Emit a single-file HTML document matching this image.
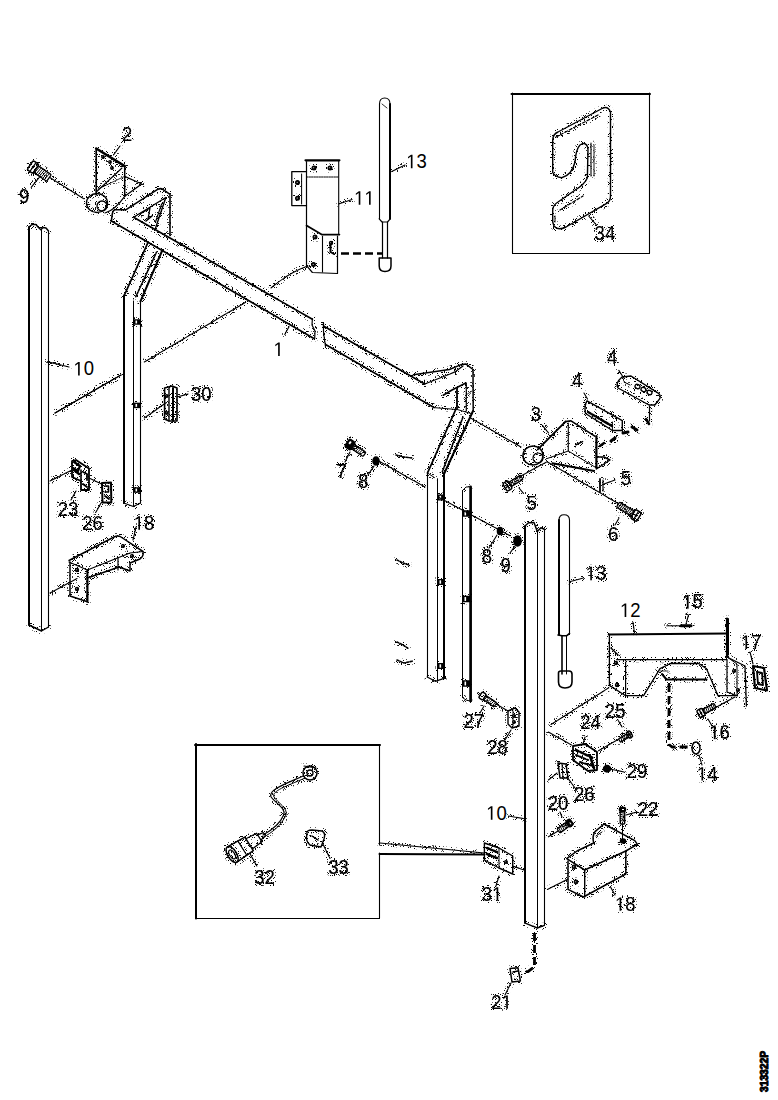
<!DOCTYPE html>
<html><head><meta charset="utf-8"><style>
html,body{margin:0;padding:0;background:#fff;}
body{width:778px;height:1100px;overflow:hidden;}
svg{display:block;}
text{font-family:"Liberation Sans",sans-serif;fill:#000;}
</style></head><body>
<svg width="778" height="1100" viewBox="0 0 778 1100">
<defs>
<filter id="nz" x="0" y="0" width="778" height="1100" filterUnits="userSpaceOnUse" color-interpolation-filters="sRGB">
<feMorphology in="SourceAlpha" operator="dilate" radius="1.5" result="d"/>
<feTurbulence type="fractalNoise" baseFrequency="0.9" numOctaves="2" seed="7" result="t"/>
<feColorMatrix in="t" type="matrix" values="0 0 0 0 0  0 0 0 0 0  0 0 0 0 0  3 0 0 0 -1.1" result="ta"/>
<feComponentTransfer in="ta" result="tb"><feFuncA type="discrete" tableValues="0 0 0 1"/></feComponentTransfer>
<feComposite in="tb" in2="d" operator="in" result="sp"/>
<feMerge><feMergeNode in="sp"/><feMergeNode in="SourceGraphic"/></feMerge>
</filter>
</defs>
<g fill="none" stroke="#000" stroke-linecap="round" stroke-linejoin="round">
<g><polyline points="29.0,227.0 29.0,625.0" stroke-width="2.0" />
<polyline points="41.5,229.7 41.5,631.0" stroke-width="1.0" />
<polyline points="48.5,231.0 48.5,627.0" stroke-width="1.1" />
<polyline points="124.0,295.5 124.0,503.0" stroke-width="2.0" />
<polyline points="133.5,301.0 133.5,506.5" stroke-width="1.0" />
<polyline points="140.5,300.4 140.5,503.0" stroke-width="1.1" />
<polyline points="427.5,472.0 427.5,677.0" stroke-width="1.1" />
<polyline points="437.5,478.7 437.5,681.3" stroke-width="1.0" />
<polyline points="444.0,473.0 444.0,678.3" stroke-width="2.0" />
<polyline points="462.5,490.7 462.5,697.5" stroke-width="1.0" />
<polyline points="470.6,486.8 470.6,701.0" stroke-width="2.7" />
<polyline points="525.0,526.2 525.0,922.8" stroke-width="2.0" />
<polyline points="537.5,531.6 537.5,928.0" stroke-width="1.0" />
<polyline points="544.5,529.3 544.5,925.4" stroke-width="1.1" />
<path d="M379.5,218.8 L379.5,104 Q379.5,98 384.7,98 Q390,98 390,104 L390,218.8" stroke-width="1.1" fill="none" />
<polyline points="390.0,104.0 390.0,218.8" stroke-width="2.0" />
<polyline points="379.2,218.8 382.0,222.0 387.5,222.0 390.2,218.8" stroke-width="1.2" />
<polyline points="382.5,222.0 382.5,258.0" stroke-width="1.2" />
<polyline points="387.5,222.0 387.5,258.0" stroke-width="1.2" />
<path d="M379.2,258 L391,258 L391,266 Q391,271.5 385,271.5 Q379.2,271.5 379.2,266 Z" stroke-width="1.5" fill="none" />
<polyline points="382.0,104.0 387.0,108.0" stroke-width="0.8" />
<polyline points="341.0,253.4 382.0,253.4" stroke-width="2.5" stroke-dasharray="8 4" stroke-linecap="butt"/>
<polyline points="305.5,160.3 339.4,160.3" stroke-width="2.2" />
<polyline points="306.5,161.5 306.5,265.7 312.4,272.5 337.5,273.5 337.5,236.0" stroke-width="1.2" />
<polyline points="338.7,161.0 338.7,234.5" stroke-width="1.1" />
<polyline points="306.5,177.0 338.6,177.0" stroke-width="1.0" stroke-dasharray="1.5 1"/>
<polyline points="306.5,225.6 321.7,234.6 339.4,234.6" stroke-width="1.8" />
<polyline points="322.5,236.4 322.5,272.0" stroke-width="1.1" />
<polyline points="306.5,171.6 291.8,171.6 291.8,205.6 306.5,205.6" stroke-width="1.3" />
<polyline points="301.6,174.0 301.6,204.0" stroke-width="1.0" />
<path d="M559,634.5 L559,520 Q559,514.7 564,514.7 Q569.5,514.7 569.5,520 L569.5,634.5" stroke-width="1.1" fill="none" />
<polyline points="559.0,520.0 559.0,634.5" stroke-width="2.0" />
<polyline points="558.0,635.0 562.0,635.8 566.5,635.8 569.5,633.5" stroke-width="1.6" />
<polyline points="562.0,635.8 562.0,674.0" stroke-width="1.6" />
<polyline points="566.5,635.8 566.5,674.0" stroke-width="1.0" />
<path d="M558.5,673 Q558.5,671 561,671 L569,671 Q572,671 572,674 L572,682 Q572,688 565,688 Q558.5,688 558.5,682 Z" stroke-width="1.6" fill="none" />
<polyline points="608.8,634.5 727.0,633.5" stroke-width="2.2" />
<polyline points="195.0,745.0 380.0,745.0" stroke-width="2.0" />
<polyline points="196.0,744.0 196.0,918.5 379.5,918.5 379.5,853.0" stroke-width="1.1" />
<polyline points="196.0,744.0 196.0,918.5" stroke-width="2.0" />
<polyline points="379.5,745.0 379.5,845.0" stroke-width="1.1" />
<polyline points="379.5,854.0 484.4,854.5" stroke-width="2.0" />
<polyline points="511.5,94.0 650.0,94.0" stroke-width="2.0" />
<polyline points="512.5,93.0 512.5,253.5 649.5,253.5 649.5,93.0" stroke-width="1.1" />
<g><path d="M515,0 L515,1237 L197,1010 L197,1180 L530,1409 L696,1409 L696,0 Z" transform="translate(354.06,204.71) scale(0.00905,-0.00952)" fill="#000" stroke="none"/><path d="M515,0 L515,1237 L197,1010 L197,1180 L530,1409 L696,1409 L696,0 Z" transform="translate(364.36,204.71) scale(0.00905,-0.00952)" fill="#000" stroke="none"/></g>
<g><path d="M515,0 L515,1237 L197,1010 L197,1180 L530,1409 L696,1409 L696,0 Z" transform="translate(406.21,168.21) scale(0.00905,-0.00952)" fill="#000" stroke="none"/><text transform="translate(416.52,168.21) scale(0.950,1)" font-size="19.50" stroke="none">3</text></g>
<g><path d="M515,0 L515,1237 L197,1010 L197,1180 L530,1409 L696,1409 L696,0 Z" transform="translate(73.42,375.41) scale(0.00905,-0.00952)" fill="#000" stroke="none"/><text transform="translate(83.72,375.41) scale(0.950,1)" font-size="19.50" stroke="none">0</text></g>
<g><path d="M515,0 L515,1237 L197,1010 L197,1180 L530,1409 L696,1409 L696,0 Z" transform="translate(273.46,355.96) scale(0.00905,-0.00952)" fill="#000" stroke="none"/></g>
<g><path d="M515,0 L515,1237 L197,1010 L197,1180 L530,1409 L696,1409 L696,0 Z" transform="translate(619.97,616.96) scale(0.00905,-0.00952)" fill="#000" stroke="none"/><text transform="translate(630.27,616.96) scale(0.950,1)" font-size="19.50" stroke="none">2</text></g>
<g><path d="M515,0 L515,1237 L197,1010 L197,1180 L530,1409 L696,1409 L696,0 Z" transform="translate(486.17,819.71) scale(0.00905,-0.00952)" fill="#000" stroke="none"/><text transform="translate(496.47,819.71) scale(0.950,1)" font-size="19.50" stroke="none">0</text></g>
<text transform="translate(768,1092) rotate(-90)" font-size="10.5" font-weight="bold" textLength="41" lengthAdjust="spacingAndGlyphs">313322P</text></g>
<g filter="url(#nz)"><polyline points="29.0,227.0 32.0,224.5 36.0,224.5 38.0,227.0 40.8,229.7 43.0,227.5 46.0,228.0 48.5,231.0" stroke-width="1.5" />
<polyline points="29.0,625.0 41.5,631.0 48.5,627.0" stroke-width="1.4" />
<polyline points="123.7,503.0 133.4,506.5 140.5,503.0" stroke-width="1.3" />
<polyline points="124.0,296.0 148.2,242.0" stroke-width="1.8" />
<polyline points="135.8,296.7 156.6,252.0" stroke-width="1.6" stroke-dasharray="2 1.2"/>
<polyline points="140.5,301.3 162.0,251.0" stroke-width="2.0" />
<rect x="133.5" y="319.25" width="7.0" height="5.5" fill="#000" stroke="none"/>
<rect x="135.5" y="320.55" width="1.6" height="2.9" fill="#fff" stroke="none"/>
<rect x="133.5" y="402.65" width="7.0" height="5.5" fill="#000" stroke="none"/>
<rect x="135.5" y="403.95" width="1.6" height="2.9" fill="#fff" stroke="none"/>
<rect x="133.5" y="487.25" width="7.0" height="5.5" fill="#000" stroke="none"/>
<rect x="135.5" y="488.55" width="1.6" height="2.9" fill="#fff" stroke="none"/>
<polyline points="134.0,217.6 312.4,319.2" stroke-width="1.7" />
<polyline points="111.3,221.1 313.9,338.5" stroke-width="1.7" />
<polyline points="312.4,318.5 312.0,325.0 315.0,331.0 314.7,338.5" stroke-width="1.2" />
<path d="M111.3,221.1 L112.3,214 Q113,210 115.4,209.8 L125.7,209.8 L157.6,189.3 Q159.5,188.5 161.7,188.7 L170,194.4 L170,235.5" stroke-width="1.6" fill="none" />
<polyline points="134.0,217.0 165.8,197.5 155.5,228.3" stroke-width="1.4" />
<polyline points="161.7,203.7 155.5,222.0" stroke-width="1.1" />
<polyline points="140.0,214.0 150.0,208.0 148.0,219.0" stroke-width="1.3" />
<polyline points="146.0,221.0 152.0,216.0" stroke-width="1.6" />
<polyline points="323.5,326.0 424.7,384.0" stroke-width="1.7" />
<polyline points="326.0,344.7 434.0,407.6" stroke-width="1.7" />
<polyline points="323.5,323.0 323.5,331.6 324.0,336.0 325.5,346.3" stroke-width="1.2" />
<polyline points="413.4,374.7 449.4,369.5 461.7,364.4 465.8,363.9 473.0,369.5 473.2,411.0" stroke-width="1.5" />
<polyline points="424.7,384.0 450.0,374.0 455.5,371.6 463.0,366.0" stroke-width="1.3" />
<polyline points="443.2,395.2 452.0,390.0 465.8,383.0" stroke-width="1.6" />
<polyline points="457.0,389.0 457.0,409.0" stroke-width="1.8" />
<polyline points="466.3,383.0 466.3,411.0" stroke-width="1.2" />
<polyline points="434.0,407.6 457.6,409.6 472.0,413.8" stroke-width="1.0" />
<polyline points="466.0,395.0 472.0,391.0" stroke-width="0.8" />
<polyline points="455.5,410.0 427.5,473.0" stroke-width="1.8" />
<polyline points="427.5,473.0 434.5,477.6" stroke-width="1.0" />
<polyline points="463.0,417.0 442.4,471.6" stroke-width="1.6" stroke-dasharray="2 1.2"/>
<polyline points="473.0,411.0 444.0,474.0" stroke-width="2.0" />
<polyline points="427.2,677.0 435.3,681.3 443.9,678.3" stroke-width="1.3" />
<rect x="437.5" y="494.5" width="6.5" height="6" fill="#000" stroke="none"/>
<rect x="439.5" y="495.8" width="1.6" height="3.4" fill="#fff" stroke="none"/>
<rect x="437.5" y="579.0" width="6.5" height="6" fill="#000" stroke="none"/>
<rect x="439.5" y="580.3" width="1.6" height="3.4" fill="#fff" stroke="none"/>
<rect x="437.5" y="663.0" width="6.5" height="6" fill="#000" stroke="none"/>
<rect x="439.5" y="664.3" width="1.6" height="3.4" fill="#fff" stroke="none"/>
<polyline points="462.4,490.7 466.0,487.0 470.0,486.8" stroke-width="1.0" />
<polyline points="462.4,697.5 466.0,700.0 470.0,701.0" stroke-width="1.0" />
<rect x="462.5" y="510.25" width="7.5" height="6.5" fill="#000" stroke="none"/>
<rect x="464.5" y="511.55" width="1.6" height="3.9" fill="#fff" stroke="none"/>
<rect x="462.5" y="595.75" width="7.5" height="6.5" fill="#000" stroke="none"/>
<rect x="464.5" y="597.05" width="1.6" height="3.9" fill="#fff" stroke="none"/>
<rect x="462.5" y="680.25" width="7.5" height="6.5" fill="#000" stroke="none"/>
<rect x="464.5" y="681.55" width="1.6" height="3.9" fill="#fff" stroke="none"/>
<polyline points="524.7,526.2 528.5,522.8 534.0,522.4 537.3,531.6 540.9,527.8 544.4,529.3" stroke-width="1.5" />
<polyline points="524.7,922.8 537.3,928.0 544.4,925.4" stroke-width="1.4" />
<circle cx="314" cy="168" r="1.9" stroke-width="1.2" fill="#000"/>
<circle cx="313.7" cy="167.8" r="0.57" stroke="none" fill="#fff"/>
<circle cx="330" cy="168" r="1.9" stroke-width="1.2" fill="#000"/>
<circle cx="329.7" cy="167.8" r="0.57" stroke="none" fill="#fff"/>
<circle cx="297.5" cy="182.5" r="1.9" stroke-width="1.2" fill="#000"/>
<circle cx="297.2" cy="182.3" r="0.57" stroke="none" fill="#fff"/>
<circle cx="297.5" cy="198.2" r="1.9" stroke-width="1.2" fill="#000"/>
<circle cx="297.2" cy="198.0" r="0.57" stroke="none" fill="#fff"/>
<circle cx="315" cy="237" r="1.9" stroke-width="1.2" fill="#000"/>
<circle cx="314.7" cy="236.8" r="0.57" stroke="none" fill="#fff"/>
<circle cx="313.5" cy="264.5" r="1.9" stroke-width="1.2" fill="#000"/>
<circle cx="313.2" cy="264.3" r="0.57" stroke="none" fill="#fff"/>
<polyline points="330.5,243.0 330.5,252.0 334.0,254.0" stroke-width="2.0" />
<circle cx="331" cy="243" r="1.6" stroke-width="1.2" fill="#000"/>
<circle cx="330.7" cy="242.8" r="0.48" stroke="none" fill="#fff"/>
<path d="M271,288 Q290,272 308,266" stroke-width="1.1" fill="none" stroke-dasharray="7 1"/>
<polyline points="96.2,148.5 96.2,194.8" stroke-width="1.7" />
<polyline points="96.2,148.5 124.7,166.2" stroke-width="2.6" />
<polyline points="124.7,166.2 124.7,196.3" stroke-width="1.5" />
<polyline points="124.7,176.3 141.7,184.0 124.7,196.3" stroke-width="1.3" />
<polyline points="96.2,192.0 122.0,168.0" stroke-width="1.1" />
<polyline points="98.0,189.0 124.7,176.3" stroke-width="0.8" />
<circle cx="103" cy="157" r="1.3" stroke-width="1.2" fill="#000"/>
<circle cx="102.7" cy="156.8" r="0.39" stroke="none" fill="#fff"/>
<circle cx="110" cy="162" r="1.3" stroke-width="1.2" fill="#000"/>
<circle cx="109.7" cy="161.8" r="0.39" stroke="none" fill="#fff"/>
<circle cx="112" cy="168" r="1.3" stroke-width="1.2" fill="#000"/>
<circle cx="111.7" cy="167.8" r="0.39" stroke="none" fill="#fff"/>
<ellipse cx="97" cy="203" rx="10.5" ry="9.5" stroke-width="1.4" fill="none" transform="rotate(0 97 203)"/>
<ellipse cx="102" cy="206" rx="5" ry="5" stroke-width="1.3" fill="none" transform="rotate(0 102 206)"/>
<path d="M105,213 Q115,210 124.7,196.3" stroke-width="1.2" fill="none" />
<polyline points="120.0,146.0 113.5,155.0" stroke-width="1.15" stroke-dasharray="7 1"/>
<g transform="translate(33.0,167.0) rotate(34.5)"><rect x="3.5" y="-4.0" width="15.9" height="8.0" rx="1" fill="none" stroke-width="1.3"/><line x1="5.3" y1="-4.0" x2="4.5" y2="4.0" stroke-width="0.9"/><line x1="7.3" y1="-4.0" x2="6.5" y2="4.0" stroke-width="0.9"/><line x1="9.3" y1="-4.0" x2="8.5" y2="4.0" stroke-width="0.9"/><line x1="11.3" y1="-4.0" x2="10.5" y2="4.0" stroke-width="0.9"/><line x1="13.3" y1="-4.0" x2="12.5" y2="4.0" stroke-width="0.9"/><line x1="15.3" y1="-4.0" x2="14.5" y2="4.0" stroke-width="0.9"/><line x1="17.3" y1="-4.0" x2="16.5" y2="4.0" stroke-width="0.9"/><rect x="-3.5" y="-5.5" width="7.0" height="11.0" rx="1.5" fill="none" stroke-width="1.5"/><line x1="0" y1="-4.5" x2="0" y2="4.5" stroke-width="1.2"/><circle cx="0" cy="0" r="1.3" fill="#000" stroke="none"/></g>
<polyline points="31.2,187.3 39.6,177.0" stroke-width="1.15" stroke-dasharray="7 1"/>
<polyline points="49.8,177.6 84.0,198.8" stroke-width="1.15" stroke-dasharray="7 1"/>
<polyline points="47.5,361.7 69.0,367.0" stroke-width="1.15" stroke-dasharray="7 1"/>
<polyline points="55.0,413.0 121.0,375.0" stroke-width="1.15" stroke-dasharray="7 1"/>
<polyline points="144.3,362.0 245.6,302.3" stroke-width="1.15" stroke-dasharray="7 1"/>
<polyline points="144.3,418.0 166.5,402.5" stroke-width="1.15" stroke-dasharray="7 1"/>
<polyline points="178.0,396.8 188.0,394.0" stroke-width="1.15" stroke-dasharray="7 1"/>
<polyline points="50.0,593.0 77.0,578.5" stroke-width="1.15" stroke-dasharray="7 1"/>
<polyline points="55.0,413.0 121.0,375.0" stroke-width="1.15" stroke-dasharray="7 1"/>
<polyline points="289.0,326.7 284.8,334.4" stroke-width="1.15" stroke-dasharray="7 1"/>
<polygon points="164.6,388.0 172.0,386.0 177.0,388.0 177.0,421.0 169.0,421.0 164.6,419.0" stroke-width="1.6" fill="none"/>
<polyline points="169.0,388.0 169.0,421.0" stroke-width="1.4" />
<polyline points="173.0,388.0 173.0,421.0" stroke-width="2.0" />
<circle cx="166.8" cy="396" r="1.3" stroke-width="1.2" fill="#000"/>
<circle cx="166.5" cy="395.8" r="0.39" stroke="none" fill="#fff"/>
<circle cx="166.8" cy="413" r="1.3" stroke-width="1.2" fill="#000"/>
<circle cx="166.5" cy="412.8" r="0.39" stroke="none" fill="#fff"/>
<path d="M72,461 L76,460 L89,468.5 L89,490 L81,490 L81,481 L72,477 Z" stroke-width="1.8" fill="none" />
<polyline points="81.0,470.0 81.0,481.0" stroke-width="1.6" />
<polyline points="74.0,462.0 80.0,466.0 78.0,471.0 73.0,468.0" stroke-width="2.2" />
<polyline points="74.0,470.0 79.0,474.0" stroke-width="2.4" />
<polyline points="83.0,472.0 87.0,474.0 87.0,480.0" stroke-width="1.8" />
<polyline points="83.0,484.0 87.0,487.0" stroke-width="2.0" />
<path d="M102,483 L111,482.5 L111.3,502.5 L102.5,502.5 Z" stroke-width="2.0" fill="none" />
<polyline points="105.0,486.0 108.5,486.0 108.5,492.0 105.0,492.0" stroke-width="1.6" />
<polyline points="105.0,496.0 109.0,499.0" stroke-width="1.8" />
<polyline points="76.0,491.0 71.0,500.0" stroke-width="1.15" stroke-dasharray="7 1"/>
<polyline points="89.0,478.0 101.6,484.0" stroke-width="1.15" stroke-dasharray="7 1"/>
<polyline points="101.0,503.0 96.0,512.0" stroke-width="1.15" stroke-dasharray="7 1"/>
<polyline points="50.0,481.0 72.0,470.0" stroke-width="1.15" stroke-dasharray="7 1"/>
<path d="M69,560.5 L114,537 Q118,535 121,537 L143,551.5 Q144,556 140,559 L130,563 L130,571 L119,567 L87.4,578 L87.4,601.7 L70,596 L70,562" stroke-width="1.5" fill="none" />
<polyline points="69.0,562.0 87.4,570.0 130.0,553.0 143.0,551.5" stroke-width="1.2" />
<polyline points="87.4,570.0 87.4,601.7" stroke-width="2.0" />
<polyline points="118.0,558.0 118.0,570.0" stroke-width="1.2" />
<circle cx="77" cy="570" r="1.6" stroke-width="1.2" fill="#000"/>
<circle cx="76.7" cy="569.8" r="0.48" stroke="none" fill="#fff"/>
<circle cx="77" cy="589" r="1.6" stroke-width="1.2" fill="#000"/>
<circle cx="76.7" cy="588.8" r="0.48" stroke="none" fill="#fff"/>
<circle cx="132" cy="556" r="1.5" stroke-width="1.2" fill="#000"/>
<circle cx="131.7" cy="555.8" r="0.45" stroke="none" fill="#fff"/>
<circle cx="123" cy="546" r="1.5" stroke-width="1.2" fill="#000"/>
<circle cx="122.7" cy="545.8" r="0.45" stroke="none" fill="#fff"/>
<polyline points="136.0,527.0 133.0,540.0" stroke-width="1.15" stroke-dasharray="7 1"/>
<g transform="translate(350.0,444.5) rotate(34.3)"><rect x="3.5" y="-2.5" width="14.1" height="5.0" rx="1" fill="none" stroke-width="1.3"/><line x1="5.3" y1="-2.5" x2="4.5" y2="2.5" stroke-width="0.9"/><line x1="7.3" y1="-2.5" x2="6.5" y2="2.5" stroke-width="0.9"/><line x1="9.3" y1="-2.5" x2="8.5" y2="2.5" stroke-width="0.9"/><line x1="11.3" y1="-2.5" x2="10.5" y2="2.5" stroke-width="0.9"/><line x1="13.3" y1="-2.5" x2="12.5" y2="2.5" stroke-width="0.9"/><line x1="15.3" y1="-2.5" x2="14.5" y2="2.5" stroke-width="0.9"/><rect x="-3.5" y="-4.5" width="7.0" height="9.0" rx="1.5" fill="#000" stroke-width="1.5"/><rect x="-2.0" y="-3.0" width="2.0" height="3.0" fill="#fff" stroke="none"/></g>
<ellipse cx="376" cy="461" rx="3" ry="4" stroke-width="1.6" fill="#000" transform="rotate(0 376 461)"/>
<polyline points="378.8,461.0 425.0,487.0" stroke-width="1.15" stroke-dasharray="7 1"/>
<polyline points="345.0,462.0 350.0,452.0" stroke-width="1.15" stroke-dasharray="7 1"/>
<polyline points="368.0,475.0 374.0,466.0" stroke-width="1.15" stroke-dasharray="7 1"/>
<polyline points="396.0,455.0 404.0,457.0 412.0,458.0" stroke-width="1.6" stroke-dasharray="2 1.5"/>
<polyline points="397.0,560.0 403.0,563.0 409.0,565.0" stroke-width="1.6" stroke-dasharray="2 1.5"/>
<polyline points="397.0,642.0 403.0,645.0 409.0,649.0" stroke-width="1.6" stroke-dasharray="2 1.5"/>
<polyline points="397.0,660.0 404.0,663.0 413.0,661.0" stroke-width="1.6" stroke-dasharray="2 1.5"/>
<ellipse cx="533" cy="455.5" rx="10" ry="9.5" stroke-width="1.5" fill="none" transform="rotate(0 533 455.5)"/>
<ellipse cx="538" cy="458" rx="5" ry="5" stroke-width="1.2" fill="none" transform="rotate(0 538 458)"/>
<polyline points="537.8,449.4 565.5,421.6" stroke-width="1.9" />
<polyline points="565.5,421.6 571.0,420.8 594.8,436.2" stroke-width="1.6" />
<polyline points="596.4,436.2 596.4,467.9" stroke-width="2.2" />
<polyline points="552.4,463.2 594.0,471.0" stroke-width="1.9" />
<polyline points="568.3,423.0 568.3,451.0" stroke-width="1.1" />
<polyline points="568.3,451.0 596.4,467.9" stroke-width="1.0" />
<polyline points="568.3,451.0 547.0,458.6" stroke-width="1.0" />
<polyline points="596.4,457.0 604.0,457.0 610.0,460.0 596.4,469.0" stroke-width="1.4" />
<polyline points="576.0,444.7 582.5,441.6" stroke-width="1.6" />
<polyline points="542.4,425.4 548.6,433.0" stroke-width="1.15" stroke-dasharray="7 1"/>
<polyline points="470.6,418.0 521.0,447.0" stroke-width="1.15" stroke-dasharray="7 1"/>
<polyline points="547.0,461.7 618.0,503.4" stroke-width="1.15" stroke-dasharray="7 1"/>
<polyline points="519.0,477.0 547.0,461.7" stroke-width="1.15" stroke-dasharray="7 1"/>
<polyline points="600.0,479.0 600.0,492.0" stroke-width="1.8" />
<polyline points="603.0,480.0 603.0,491.0" stroke-width="1.2" />
<polyline points="604.0,484.0 615.0,480.0" stroke-width="1.15" stroke-dasharray="7 1"/>
<g transform="translate(507.5,486.0) rotate(-31.5)"><rect x="3.0" y="-2.5" width="13.7" height="5.0" rx="1" fill="none" stroke-width="1.3"/><line x1="4.8" y1="-2.5" x2="4.0" y2="2.5" stroke-width="0.9"/><line x1="6.8" y1="-2.5" x2="6.0" y2="2.5" stroke-width="0.9"/><line x1="8.8" y1="-2.5" x2="8.0" y2="2.5" stroke-width="0.9"/><line x1="10.8" y1="-2.5" x2="10.0" y2="2.5" stroke-width="0.9"/><line x1="12.8" y1="-2.5" x2="12.0" y2="2.5" stroke-width="0.9"/><line x1="14.8" y1="-2.5" x2="14.0" y2="2.5" stroke-width="0.9"/><rect x="-3.0" y="-4.5" width="6.0" height="9.0" rx="1.5" fill="none" stroke-width="1.5"/><line x1="0" y1="-3.5" x2="0" y2="3.5" stroke-width="1.2"/><circle cx="0" cy="0" r="1.3" fill="#000" stroke="none"/></g>
<polyline points="519.0,488.0 524.0,494.0" stroke-width="1.15" stroke-dasharray="7 1"/>
<g transform="translate(636.0,515.5) rotate(-148.8)"><rect x="3.5" y="-3.0" width="17.5" height="6.0" rx="1" fill="none" stroke-width="1.3"/><line x1="5.3" y1="-3.0" x2="4.5" y2="3.0" stroke-width="0.9"/><line x1="7.3" y1="-3.0" x2="6.5" y2="3.0" stroke-width="0.9"/><line x1="9.3" y1="-3.0" x2="8.5" y2="3.0" stroke-width="0.9"/><line x1="11.3" y1="-3.0" x2="10.5" y2="3.0" stroke-width="0.9"/><line x1="13.3" y1="-3.0" x2="12.5" y2="3.0" stroke-width="0.9"/><line x1="15.3" y1="-3.0" x2="14.5" y2="3.0" stroke-width="0.9"/><line x1="17.3" y1="-3.0" x2="16.5" y2="3.0" stroke-width="0.9"/><line x1="19.3" y1="-3.0" x2="18.5" y2="3.0" stroke-width="0.9"/><rect x="-3.5" y="-5.0" width="7.0" height="10.0" rx="1.5" fill="none" stroke-width="1.5"/><line x1="0" y1="-4.0" x2="0" y2="4.0" stroke-width="1.2"/><circle cx="0" cy="0" r="1.3" fill="#000" stroke="none"/></g>
<polyline points="615.0,525.0 619.0,518.0" stroke-width="1.15" stroke-dasharray="7 1"/>
<polyline points="438.0,497.0 510.0,535.7" stroke-width="1.15" stroke-dasharray="7 1"/>
<ellipse cx="500" cy="531" rx="2.5" ry="3.5" stroke-width="1.6" fill="#000" transform="rotate(0 500 531)"/>
<ellipse cx="517.5" cy="541" rx="3.5" ry="5" stroke-width="1.6" fill="#000" transform="rotate(0 517.5 541)"/>
<polyline points="489.0,548.0 497.0,535.0" stroke-width="1.15" stroke-dasharray="7 1"/>
<polyline points="510.0,553.0 515.0,546.0" stroke-width="1.15" stroke-dasharray="7 1"/>
<path d="M622,377 L631,376 L659,393.7 Q662,397 658,401 L654.8,405 L649,405 L618,388 Q615,383 622,377 Z" stroke-width="1.4" fill="none" />
<ellipse cx="637.5" cy="386.5" rx="2.6" ry="2.0" stroke-width="1.3" fill="none" transform="rotate(25 637.5 386.5)"/>
<ellipse cx="643.5" cy="389.5" rx="2.6" ry="2.0" stroke-width="1.3" fill="none" transform="rotate(25 643.5 389.5)"/>
<ellipse cx="649.5" cy="392.5" rx="2.6" ry="2.0" stroke-width="1.3" fill="none" transform="rotate(25 649.5 392.5)"/>
<polyline points="624.0,382.0 630.0,385.0" stroke-width="1.0" />
<path d="M587,400.8 L622.3,420.6 L622.3,430.5 L612.4,430.5 L585.5,413.5 Q584,405 587,400.8 Z" stroke-width="1.4" fill="none" />
<polyline points="588.0,412.0 612.0,426.0" stroke-width="2.5" stroke-dasharray="3 2"/>
<polyline points="612.4,430.5 612.4,422.0" stroke-width="1.0" />
<polyline points="618.8,370.4 623.7,378.0" stroke-width="1.15" stroke-dasharray="7 1"/>
<polyline points="584.0,393.0 587.7,399.4" stroke-width="1.15" stroke-dasharray="7 1"/>
<polyline points="649.5,406.0 649.5,421.0" stroke-width="1.2" />
<polyline points="646.0,419.0 649.0,424.0" stroke-width="2.5" />
<polyline points="632.0,427.0 637.0,430.0" stroke-width="3.0" />
<polyline points="623.0,433.0 628.0,432.0" stroke-width="3.0" />
<polyline points="611.0,441.0 615.0,438.0" stroke-width="3.0" />
<polyline points="600.0,446.0 604.0,443.0" stroke-width="2.5" />
<polyline points="569.4,581.8 583.3,578.0" stroke-width="1.15" stroke-dasharray="7 1"/>
<g transform="translate(482.5,696.0) rotate(34.9)"><rect x="2.5" y="-2.5" width="13.2" height="5.0" rx="1" fill="none" stroke-width="1.3"/><line x1="4.3" y1="-2.5" x2="3.5" y2="2.5" stroke-width="0.9"/><line x1="6.3" y1="-2.5" x2="5.5" y2="2.5" stroke-width="0.9"/><line x1="8.3" y1="-2.5" x2="7.5" y2="2.5" stroke-width="0.9"/><line x1="10.3" y1="-2.5" x2="9.5" y2="2.5" stroke-width="0.9"/><line x1="12.3" y1="-2.5" x2="11.5" y2="2.5" stroke-width="0.9"/><line x1="14.3" y1="-2.5" x2="13.5" y2="2.5" stroke-width="0.9"/><rect x="-2.5" y="-3.5" width="5.0" height="7.0" rx="1.5" fill="none" stroke-width="1.5"/></g>
<polyline points="496.0,704.0 508.0,711.0" stroke-width="1.15" stroke-dasharray="7 1"/>
<polygon points="508.0,711.0 515.0,708.0 519.0,712.0 519.0,726.0 512.0,728.0 508.0,724.0" stroke-width="1.4" fill="none"/>
<polyline points="513.0,711.0 513.0,726.0" stroke-width="1.0" />
<circle cx="514" cy="716" r="1.3" stroke-width="1.2" fill="#000"/>
<circle cx="513.7" cy="715.8" r="0.39" stroke="none" fill="#fff"/>
<circle cx="514" cy="722" r="1.3" stroke-width="1.2" fill="#000"/>
<circle cx="513.7" cy="721.8" r="0.39" stroke="none" fill="#fff"/>
<polyline points="480.0,713.0 484.0,706.0" stroke-width="1.15" stroke-dasharray="7 1"/>
<polyline points="505.0,740.0 511.0,730.0" stroke-width="1.15" stroke-dasharray="7 1"/>
<polyline points="609.4,634.5 609.4,685.4 625.6,695.7 643.6,695.7 660.0,668.7 670.5,663.5 698.8,663.5 706.5,668.7 718.0,695.7 737.4,695.7" stroke-width="1.3" />
<polyline points="616.6,659.7 727.0,659.7" stroke-width="1.2" />
<polyline points="625.6,662.0 625.6,695.7" stroke-width="1.2" />
<polyline points="662.0,674.0 666.5,679.5 706.5,679.5" stroke-width="2.0" />
<polyline points="660.0,671.0 668.0,671.0" stroke-width="0.8" />
<polyline points="611.0,648.0 618.0,655.0" stroke-width="1.4" />
<circle cx="616" cy="663" r="1.6" stroke-width="1.2" fill="#000"/>
<circle cx="615.7" cy="662.8" r="0.48" stroke="none" fill="#fff"/>
<circle cx="617" cy="685" r="1.6" stroke-width="1.2" fill="#000"/>
<circle cx="616.7" cy="684.8" r="0.48" stroke="none" fill="#fff"/>
<polyline points="727.0,618.6 727.0,657.0" stroke-width="2.2" />
<polyline points="728.5,618.6 728.5,655.0" stroke-width="1.0" />
<polyline points="727.0,657.0 745.0,666.0 746.4,706.0" stroke-width="1.3" />
<polyline points="727.0,657.0 737.0,664.0 737.0,695.7" stroke-width="1.0" />
<polyline points="727.0,660.0 727.0,692.0 737.4,695.7" stroke-width="1.2" />
<circle cx="734" cy="671" r="1.5" stroke-width="1.2" fill="#000"/>
<circle cx="733.7" cy="670.8" r="0.45" stroke="none" fill="#fff"/>
<circle cx="738" cy="690" r="1.5" stroke-width="1.2" fill="#000"/>
<circle cx="737.7" cy="689.8" r="0.45" stroke="none" fill="#fff"/>
<polyline points="666.7,625.8 691.0,625.8" stroke-width="1.0" />
<polyline points="681.0,625.8 691.0,625.8" stroke-width="3.0" />
<polyline points="688.5,615.0 686.0,624.0" stroke-width="1.15" stroke-dasharray="7 1"/>
<polyline points="633.0,622.4 634.5,632.7" stroke-width="1.15" stroke-dasharray="7 1"/>
<polygon points="753.0,666.0 764.0,668.0 767.0,690.5 755.0,688.0" stroke-width="2.2" fill="none"/>
<polygon points="757.0,672.0 762.0,673.0 763.0,685.0 758.0,684.0" stroke-width="1.8" fill="none"/>
<polyline points="750.0,652.0 753.0,664.0" stroke-width="1.15" stroke-dasharray="7 1"/>
<g transform="translate(701.0,713.0) rotate(-28.2)"><rect x="3.0" y="-2.5" width="12.9" height="5.0" rx="1" fill="none" stroke-width="1.3"/><line x1="4.8" y1="-2.5" x2="4.0" y2="2.5" stroke-width="0.9"/><line x1="6.8" y1="-2.5" x2="6.0" y2="2.5" stroke-width="0.9"/><line x1="8.8" y1="-2.5" x2="8.0" y2="2.5" stroke-width="0.9"/><line x1="10.8" y1="-2.5" x2="10.0" y2="2.5" stroke-width="0.9"/><line x1="12.8" y1="-2.5" x2="12.0" y2="2.5" stroke-width="0.9"/><line x1="14.8" y1="-2.5" x2="14.0" y2="2.5" stroke-width="0.9"/><rect x="-3.0" y="-4.0" width="6.0" height="8.0" rx="1.5" fill="none" stroke-width="1.5"/><line x1="0" y1="-3.0" x2="0" y2="3.0" stroke-width="1.2"/><circle cx="0" cy="0" r="1.3" fill="#000" stroke="none"/></g>
<polyline points="711.0,710.0 735.0,697.0" stroke-width="1.15" stroke-dasharray="7 1"/>
<polyline points="708.0,719.0 712.0,726.0" stroke-width="1.15" stroke-dasharray="7 1"/>
<polyline points="669.0,684.0 669.0,744.5 672.0,747.0 691.0,747.0" stroke-width="2.8" stroke-dasharray="8 4" stroke-linecap="butt"/>
<ellipse cx="696" cy="748" rx="4" ry="6" stroke-width="1.5" fill="none" transform="rotate(0 696 748)"/>
<polyline points="699.0,755.0 702.0,765.0" stroke-width="1.15" stroke-dasharray="7 1"/>
<polyline points="551.0,724.5 608.8,687.7" stroke-width="1.15" stroke-dasharray="7 1"/>
<polyline points="548.4,732.0 571.5,745.0" stroke-width="1.15" stroke-dasharray="7 1"/>
<polyline points="598.5,750.7 619.0,739.0" stroke-width="1.15" stroke-dasharray="7 1"/>
<path d="M573,746 L585,744 L597,752 L597,770 L588,771 L573,760 Z" stroke-width="1.8" fill="none" />
<polyline points="576.0,750.0 593.0,758.0" stroke-width="2.5" stroke-dasharray="3 2"/>
<polyline points="580.0,762.0 593.0,766.0" stroke-width="2.0" stroke-dasharray="3 2"/>
<polyline points="576.0,755.0 588.0,760.0" stroke-width="2.0" stroke-dasharray="2 2"/>
<polyline points="590.0,756.0 594.0,768.0" stroke-width="2.5" />
<polyline points="585.0,737.0 583.0,744.0" stroke-width="1.15" stroke-dasharray="7 1"/>
<g transform="translate(629.5,734.5) rotate(148.6)"><rect x="2.0" y="-2.0" width="9.7" height="4.0" rx="1" fill="none" stroke-width="1.3"/><line x1="3.8" y1="-2.0" x2="3.0" y2="2.0" stroke-width="0.9"/><line x1="5.8" y1="-2.0" x2="5.0" y2="2.0" stroke-width="0.9"/><line x1="7.8" y1="-2.0" x2="7.0" y2="2.0" stroke-width="0.9"/><line x1="9.8" y1="-2.0" x2="9.0" y2="2.0" stroke-width="0.9"/><rect x="-2.0" y="-3.5" width="4.0" height="7.0" rx="1.5" fill="none" stroke-width="1.5"/><line x1="0" y1="-2.5" x2="0" y2="2.5" stroke-width="1.2"/><circle cx="0" cy="0" r="1.3" fill="#000" stroke="none"/></g>
<polyline points="622.0,727.0 618.0,720.0" stroke-width="1.15" stroke-dasharray="7 1"/>
<ellipse cx="607" cy="768.8" rx="3.5" ry="3.2" stroke-width="1.5" fill="#000" transform="rotate(0 607 768.8)"/>
<polyline points="610.0,769.0 624.0,772.0" stroke-width="1.15" stroke-dasharray="7 1"/>
<polygon points="558.0,763.0 566.0,764.0 568.0,778.0 560.0,778.0" stroke-width="1.5" fill="none"/>
<polyline points="562.0,764.0 563.0,778.0" stroke-width="1.0" />
<polyline points="567.0,777.0 575.0,788.0" stroke-width="1.15" stroke-dasharray="7 1"/>
<polyline points="548.4,780.0 557.0,773.0" stroke-width="1.15" stroke-dasharray="7 1"/>
<g transform="translate(569.5,823.0) rotate(144.0)"><rect x="2.5" y="-2.5" width="11.1" height="5.0" rx="1" fill="none" stroke-width="1.3"/><line x1="4.3" y1="-2.5" x2="3.5" y2="2.5" stroke-width="0.9"/><line x1="6.3" y1="-2.5" x2="5.5" y2="2.5" stroke-width="0.9"/><line x1="8.3" y1="-2.5" x2="7.5" y2="2.5" stroke-width="0.9"/><line x1="10.3" y1="-2.5" x2="9.5" y2="2.5" stroke-width="0.9"/><line x1="12.3" y1="-2.5" x2="11.5" y2="2.5" stroke-width="0.9"/><rect x="-2.5" y="-3.5" width="5.0" height="7.0" rx="1.5" fill="#000" stroke-width="1.5"/><rect x="-1.0" y="-2.0" width="1.0" height="2.3" fill="#fff" stroke="none"/></g>
<polyline points="548.4,836.8 558.0,831.0" stroke-width="1.15" stroke-dasharray="7 1"/>
<polyline points="562.0,817.0 560.0,812.0" stroke-width="1.15" stroke-dasharray="7 1"/>
<g transform="translate(622.5,809.5) rotate(90.0)"><rect x="2.0" y="-2.2" width="12.5" height="4.5" rx="1" fill="none" stroke-width="1.3"/><line x1="3.8" y1="-2.2" x2="3.0" y2="2.2" stroke-width="0.9"/><line x1="5.8" y1="-2.2" x2="5.0" y2="2.2" stroke-width="0.9"/><line x1="7.8" y1="-2.2" x2="7.0" y2="2.2" stroke-width="0.9"/><line x1="9.8" y1="-2.2" x2="9.0" y2="2.2" stroke-width="0.9"/><line x1="11.8" y1="-2.2" x2="11.0" y2="2.2" stroke-width="0.9"/><rect x="-2.0" y="-3.0" width="4.0" height="6.0" rx="1.5" fill="#000" stroke-width="1.5"/><rect x="-0.5" y="-1.5" width="1.0" height="2.0" fill="#fff" stroke="none"/></g>
<polyline points="622.5,824.0 622.5,842.0" stroke-width="1.0" />
<polyline points="626.0,815.0 637.0,812.0" stroke-width="1.15" stroke-dasharray="7 1"/>
<ellipse cx="623" cy="841" rx="2.5" ry="2" stroke-width="1.5" fill="#000" transform="rotate(0 623 841)"/>
<path d="M566.7,858.6 L577,851 L593.7,843 Q592,836 595,831.6 L604,824 L634.8,840.6 L637.4,844.4 L625.8,851 L584.7,870 Z" stroke-width="1.5" fill="none" />
<polyline points="568.0,861.0 568.0,889.4 583.4,897.0 625.8,874.0 625.8,851.0" stroke-width="1.5" />
<polyline points="584.7,870.0 584.7,897.0" stroke-width="1.4" />
<polyline points="596.0,836.0 602.0,832.0" stroke-width="1.0" />
<circle cx="574" cy="867" r="1.8" stroke-width="1.2" fill="#000"/>
<circle cx="573.7" cy="866.8" r="0.54" stroke="none" fill="#fff"/>
<circle cx="576" cy="882" r="1.8" stroke-width="1.2" fill="#000"/>
<circle cx="575.7" cy="881.8" r="0.54" stroke="none" fill="#fff"/>
<polyline points="610.4,886.8 615.0,895.0" stroke-width="1.15" stroke-dasharray="7 1"/>
<polyline points="547.4,889.4 568.0,879.0" stroke-width="1.15" stroke-dasharray="7 1"/>
<polygon points="484.4,843.0 499.0,848.0 512.7,856.0 512.7,874.0 499.0,868.0 484.4,860.0" stroke-width="1.4" fill="none"/>
<polyline points="499.0,848.0 499.0,868.0" stroke-width="1.0" />
<polyline points="487.0,848.0 497.0,852.0" stroke-width="2.5" stroke-dasharray="2 1.5"/>
<polyline points="487.0,854.0 497.0,858.0" stroke-width="2.5" stroke-dasharray="2 1.5"/>
<circle cx="506" cy="862" r="1.4" stroke-width="1.2" fill="#000"/>
<circle cx="505.7" cy="861.8" r="0.42" stroke="none" fill="#fff"/>
<polyline points="499.0,876.0 496.0,886.0" stroke-width="1.15" stroke-dasharray="7 1"/>
<polyline points="512.7,866.0 524.0,870.0" stroke-width="1.15" stroke-dasharray="7 1"/>
<polyline points="534.5,933.0 534.5,966.5 528.0,971.7 521.7,971.7" stroke-width="2.8" stroke-dasharray="8 4" stroke-linecap="butt"/>
<polygon points="510.0,968.5 518.0,967.8 520.4,981.0 512.0,982.0" stroke-width="1.5" fill="none"/>
<polyline points="513.0,972.0 518.0,971.0" stroke-width="1.5" />
<polyline points="505.0,995.0 511.0,983.0" stroke-width="1.15" stroke-dasharray="7 1"/>
<polyline points="380.0,843.0 484.4,853.0" stroke-width="1.2" />
<g transform="rotate(-32 244 847)"><ellipse cx="230" cy="847" rx="4.5" ry="9" fill="none" stroke-width="1.5"/><ellipse cx="230" cy="847" rx="2.5" ry="5" fill="none" stroke-width="1.2"/><path d="M230,838 L250,839 L250,855 L230,856" fill="none" stroke-width="1.5"/><line x1="242" y1="838.5" x2="242" y2="855.5" stroke-width="1.2"/><path d="M250,841 L262,842 L262,852 L250,853" fill="none" stroke-width="1.3"/><path d="M262,844 L268,845 L268,849 L262,850" fill="none" stroke-width="1.2"/></g>
<path d="M263,835 C272,830 280,824 283.8,814.7 C286,808 275,803 271,796.7 C268,790 285,784 303,776" stroke-width="1.2" fill="none" />
<path d="M263,837.5 C272,832.5 281,826 286,815 C288,808 278,803 274,797 C271,791 287,786 304,778.5" stroke-width="1.0" fill="none" />
<circle cx="310" cy="773" r="7" stroke-width="1.5" fill="none"/>
<circle cx="310" cy="773" r="3" stroke-width="1.3" fill="none"/>
<polyline points="304.0,766.0 316.0,768.0" stroke-width="1.2" />
<polyline points="250.4,854.5 256.8,866.0" stroke-width="1.15" stroke-dasharray="7 1"/>
<path d="M307,834 Q306,830 312,830 L322,831 Q326,833 324,839 L321,847 L310,845 Q305,841 307,834 Z" stroke-width="1.4" fill="none" />
<polyline points="312.0,836.0 318.0,840.0" stroke-width="1.5" />
<polyline points="322.4,843.0 330.0,858.4" stroke-width="1.15" stroke-dasharray="7 1"/>
<path d="M552.7,172.5 L552.7,140 Q553,134 558,132 L603,108 Q608,106 610.5,112 L610.5,196 Q610.5,201 606.7,203.4 L566,227 Q558,231 554,226 L552.7,222 L552.7,210 Q553,205 558,202 L574.5,190.5 Q585,184 587.4,177.7 L588,148 Q586,141 580,145 Q576,149 575,162 Q572,175 561.7,177.7 Q555,177 552.7,172.5 Z" stroke-width="1.4" fill="none" />
<polyline points="591.0,143.0 591.0,176.0" stroke-width="1.1" />
<polyline points="594.0,145.0 594.0,176.0" stroke-width="0.9" />
<polyline points="556.0,137.0 598.0,115.0" stroke-width="1.2" stroke-dasharray="3 2"/>
<polyline points="560.0,210.0 583.0,196.0" stroke-width="1.3" stroke-dasharray="3 2"/>
<polyline points="555.0,216.0 555.0,222.0" stroke-width="1.0" />
<polyline points="588.7,216.0 596.4,225.0" stroke-width="1.15" stroke-dasharray="7 1"/>
<polyline points="338.6,204.0 352.0,199.5" stroke-width="1.15" stroke-dasharray="7 1"/>
<polyline points="391.7,171.6 405.0,165.0" stroke-width="1.15" stroke-dasharray="7 1"/>
<polyline points="508.6,816.0 524.8,818.8" stroke-width="1.15" stroke-dasharray="7 1"/>
<g><text transform="translate(122.05,140.96) scale(0.950,1)" font-size="19.50" stroke="#000" stroke-width="0.05">2</text></g>
<g><text transform="translate(19.00,203.01) scale(0.950,1)" font-size="19.50" stroke="#000" stroke-width="0.2">9</text></g>
<g><text transform="translate(594.62,239.96) scale(0.950,1)" font-size="19.50" stroke="#000" stroke-width="0.05">3</text><text transform="translate(604.92,239.96) scale(0.950,1)" font-size="19.50" stroke="#000" stroke-width="0.05">4</text></g>
<g><text transform="translate(190.91,400.51) scale(0.950,1)" font-size="19.50" stroke="#000" stroke-width="0.2">3</text><text transform="translate(201.21,400.51) scale(0.950,1)" font-size="19.50" stroke="#000" stroke-width="0.2">0</text></g>
<g><text transform="translate(57.64,515.71) scale(0.950,1)" font-size="19.50" stroke="#000" stroke-width="0.05">2</text><text transform="translate(67.94,515.71) scale(0.950,1)" font-size="19.50" stroke="#000" stroke-width="0.05">3</text></g>
<g><text transform="translate(82.14,530.21) scale(0.950,1)" font-size="19.50" stroke="#000" stroke-width="0.05">2</text><text transform="translate(92.44,530.21) scale(0.950,1)" font-size="19.50" stroke="#000" stroke-width="0.05">6</text></g>
<g><path d="M515,0 L515,1237 L197,1010 L197,1180 L530,1409 L696,1409 L696,0 Z" transform="translate(133.71,529.71) scale(0.00905,-0.00952)" fill="#000" stroke="#000" stroke-width="5.3"/><text transform="translate(144.01,529.71) scale(0.950,1)" font-size="19.50" stroke="#000" stroke-width="0.05">8</text></g>
<g><text transform="translate(336.39,478.06) scale(0.950,1)" font-size="19.50" stroke="#000" stroke-width="0.2">7</text></g>
<g><text transform="translate(358.10,488.21) scale(0.950,1)" font-size="19.50" stroke="#000" stroke-width="0.2">8</text></g>
<g><text transform="translate(530.70,421.01) scale(0.950,1)" font-size="19.50" stroke="#000" stroke-width="0.05">3</text></g>
<g><text transform="translate(571.96,387.06) scale(0.950,1)" font-size="19.50" stroke="#000" stroke-width="0.05">4</text></g>
<g><text transform="translate(607.01,363.96) scale(0.950,1)" font-size="19.50" stroke="#000" stroke-width="0.05">4</text></g>
<g><text transform="translate(620.77,484.51) scale(0.950,1)" font-size="19.50" stroke="#000" stroke-width="0.05">5</text></g>
<g><text transform="translate(526.47,509.96) scale(0.950,1)" font-size="19.50" stroke="#000" stroke-width="0.05">5</text></g>
<g><text transform="translate(608.04,540.56) scale(0.950,1)" font-size="19.50" stroke="#000" stroke-width="0.2">6</text></g>
<g><text transform="translate(481.70,563.06) scale(0.950,1)" font-size="19.50" stroke="#000" stroke-width="0.2">8</text></g>
<g><text transform="translate(500.60,571.96) scale(0.950,1)" font-size="19.50" stroke="#000" stroke-width="0.2">9</text></g>
<g><path d="M515,0 L515,1237 L197,1010 L197,1180 L530,1409 L696,1409 L696,0 Z" transform="translate(585.61,580.21) scale(0.00905,-0.00952)" fill="#000" stroke="#000" stroke-width="5.3"/><text transform="translate(595.92,580.21) scale(0.950,1)" font-size="19.50" stroke="#000" stroke-width="0.05">3</text></g>
<g><path d="M515,0 L515,1237 L197,1010 L197,1180 L530,1409 L696,1409 L696,0 Z" transform="translate(682.25,608.46) scale(0.00905,-0.00952)" fill="#000" stroke="#000" stroke-width="21.0"/><text transform="translate(692.55,608.46) scale(0.950,1)" font-size="19.50" stroke="#000" stroke-width="0.2">5</text></g>
<g><path d="M515,0 L515,1237 L197,1010 L197,1180 L530,1409 L696,1409 L696,0 Z" transform="translate(740.77,648.91) scale(0.00905,-0.00952)" fill="#000" stroke="#000" stroke-width="5.3"/><text transform="translate(751.07,648.91) scale(0.950,1)" font-size="19.50" stroke="#000" stroke-width="0.05">7</text></g>
<g><path d="M515,0 L515,1237 L197,1010 L197,1180 L530,1409 L696,1409 L696,0 Z" transform="translate(709.26,738.91) scale(0.00905,-0.00952)" fill="#000" stroke="#000" stroke-width="21.0"/><text transform="translate(719.57,738.91) scale(0.950,1)" font-size="19.50" stroke="#000" stroke-width="0.2">6</text></g>
<g><path d="M515,0 L515,1237 L197,1010 L197,1180 L530,1409 L696,1409 L696,0 Z" transform="translate(696.83,780.56) scale(0.00905,-0.00952)" fill="#000" stroke="#000" stroke-width="5.3"/><text transform="translate(707.13,780.56) scale(0.950,1)" font-size="19.50" stroke="#000" stroke-width="0.05">4</text></g>
<g><text transform="translate(463.45,728.01) scale(0.950,1)" font-size="19.50" stroke="#000" stroke-width="0.2">2</text><text transform="translate(473.75,728.01) scale(0.950,1)" font-size="19.50" stroke="#000" stroke-width="0.2">7</text></g>
<g><text transform="translate(487.23,753.71) scale(0.950,1)" font-size="19.50" stroke="#000" stroke-width="0.2">2</text><text transform="translate(497.54,753.71) scale(0.950,1)" font-size="19.50" stroke="#000" stroke-width="0.2">8</text></g>
<g><text transform="translate(580.25,729.16) scale(0.950,1)" font-size="19.50" stroke="#000" stroke-width="0.05">2</text><text transform="translate(590.56,729.16) scale(0.950,1)" font-size="19.50" stroke="#000" stroke-width="0.05">4</text></g>
<g><text transform="translate(604.87,717.51) scale(0.950,1)" font-size="19.50" stroke="#000" stroke-width="0.2">2</text><text transform="translate(615.17,717.51) scale(0.950,1)" font-size="19.50" stroke="#000" stroke-width="0.2">5</text></g>
<g><text transform="translate(626.77,777.96) scale(0.950,1)" font-size="19.50" stroke="#000" stroke-width="0.05">2</text><text transform="translate(637.07,777.96) scale(0.950,1)" font-size="19.50" stroke="#000" stroke-width="0.05">9</text></g>
<g><text transform="translate(573.99,801.11) scale(0.950,1)" font-size="19.50" stroke="#000" stroke-width="0.2">2</text><text transform="translate(584.29,801.11) scale(0.950,1)" font-size="19.50" stroke="#000" stroke-width="0.2">6</text></g>
<g><text transform="translate(547.64,810.21) scale(0.950,1)" font-size="19.50" stroke="#000" stroke-width="0.2">2</text><text transform="translate(557.95,810.21) scale(0.950,1)" font-size="19.50" stroke="#000" stroke-width="0.2">0</text></g>
<g><text transform="translate(637.70,815.81) scale(0.950,1)" font-size="19.50" stroke="#000" stroke-width="0.2">2</text><text transform="translate(648.00,815.81) scale(0.950,1)" font-size="19.50" stroke="#000" stroke-width="0.2">2</text></g>
<g><text transform="translate(481.65,900.71) scale(0.950,1)" font-size="19.50" stroke="#000" stroke-width="0.05">3</text><path d="M515,0 L515,1237 L197,1010 L197,1180 L530,1409 L696,1409 L696,0 Z" transform="translate(491.95,900.71) scale(0.00905,-0.00952)" fill="#000" stroke="#000" stroke-width="5.3"/></g>
<g><path d="M515,0 L515,1237 L197,1010 L197,1180 L530,1409 L696,1409 L696,0 Z" transform="translate(614.96,910.86) scale(0.00905,-0.00952)" fill="#000" stroke="#000" stroke-width="5.3"/><text transform="translate(625.26,910.86) scale(0.950,1)" font-size="19.50" stroke="#000" stroke-width="0.05">8</text></g>
<g><text transform="translate(491.23,1008.81) scale(0.950,1)" font-size="19.50" stroke="#000" stroke-width="0.05">2</text><path d="M515,0 L515,1237 L197,1010 L197,1180 L530,1409 L696,1409 L696,0 Z" transform="translate(501.54,1008.81) scale(0.00905,-0.00952)" fill="#000" stroke="#000" stroke-width="5.3"/></g>
<g><text transform="translate(254.31,883.71) scale(0.950,1)" font-size="19.50" stroke="#000" stroke-width="0.2">3</text><text transform="translate(264.61,883.71) scale(0.950,1)" font-size="19.50" stroke="#000" stroke-width="0.2">2</text></g>
<g><text transform="translate(328.15,874.06) scale(0.950,1)" font-size="19.50" stroke="#000" stroke-width="0.2">3</text><text transform="translate(338.45,874.06) scale(0.950,1)" font-size="19.50" stroke="#000" stroke-width="0.2">3</text></g></g>
</g>
</svg>
</body></html>
